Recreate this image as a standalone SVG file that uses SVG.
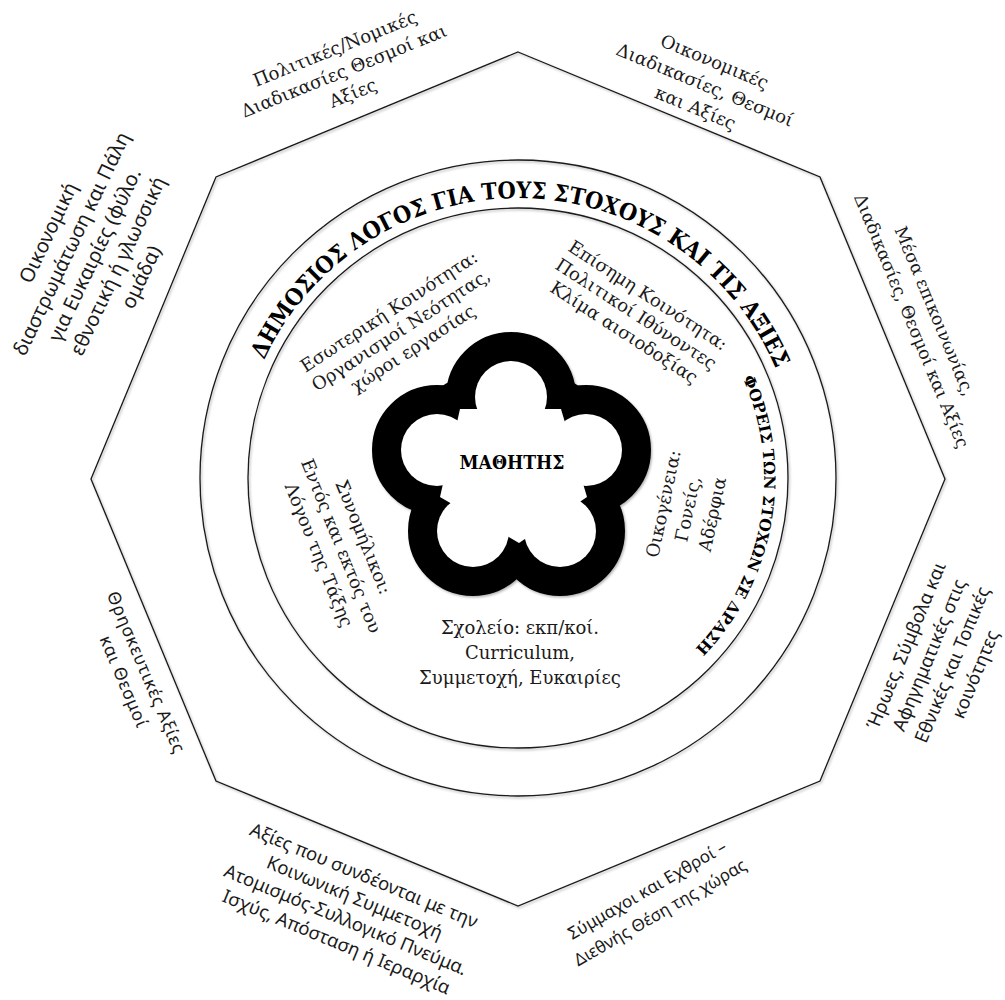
<svg xmlns="http://www.w3.org/2000/svg" xmlns:xlink="http://www.w3.org/1999/xlink" width="1005" height="1000" viewBox="0 0 1005 1000">
<style>
.ln{fill:none;stroke:#1a1a1a;stroke-width:1.3}
.se{font-family:"DejaVu Serif","Liberation Serif",serif;fill:#1a1a1a;text-anchor:middle}
.sa{font-family:"Noto Sans","Open Sans","Liberation Sans",sans-serif;fill:#1a1a1a;text-anchor:middle}
.bd{font-family:"DejaVu Serif","Liberation Serif",serif;font-weight:bold;fill:#000}
</style>
<defs>
<filter id="sh" filterUnits="userSpaceOnUse" x="0" y="0" width="1005" height="1000">
<feDropShadow dx="1.2" dy="1.5" stdDeviation="1" flood-color="#000" flood-opacity="0.3"/>
</filter>
<path id="arcTitle" d="M238.04,473.11 A280,280 0 0 1 797.96,482.89"/>
<path id="arcFor" d="M560.7,235.7 A246,246 0 0 1 475.3,720.3"/>
<g id="petals">
<polygon points="460,409 561,409 587,497 519,543 440,497"/>
<circle cx="511" cy="397" r="36"/>
<circle cx="437" cy="450" r="36"/>
<circle cx="586" cy="450" r="36"/>
<circle cx="473" cy="531" r="36"/>
<circle cx="560" cy="531" r="36"/>
</g>
</defs>
<rect width="1005" height="1000" fill="#fff"/>

<g id="frame" filter="url(#sh)">
<polygon class="ln" points="518,52 820,177 945,479 820,781 518,906 216,781 91,479 216,177"/>
<circle class="ln" cx="518" cy="478" r="318"/>
<circle class="ln" cx="518" cy="478" r="270"/>
</g>

<g id="title">
<text class="bd" font-size="23"><textPath xlink:href="#arcTitle" href="#arcTitle" startOffset="50%" text-anchor="middle" textLength="645" lengthAdjust="spacingAndGlyphs">ΔΗΜΟΣΙΟΣ ΛΟΓΟΣ ΓΙΑ ΤΟΥΣ ΣΤΟΧΟΥΣ ΚΑΙ ΤΙΣ ΑΞΙΕΣ</textPath></text>
</g>
<g id="foreis">
<text class="bd" font-size="15.5"><textPath xlink:href="#arcFor" href="#arcFor" startOffset="50%" text-anchor="middle" textLength="292" lengthAdjust="spacingAndGlyphs">ΦΟΡΕΙΣ ΤΩΝ ΣΤΟΧΩΝ ΣΕ ΔΡΑΣΗ</textPath></text>
</g>

<g id="flower" filter="url(#sh)">
<use href="#petals" xlink:href="#petals" fill="#000" stroke="#000" stroke-width="58" stroke-linejoin="round"/>
<use href="#petals" xlink:href="#petals" fill="#fff"/>
</g>
<g id="student">
<text class="bd" x="512" y="469" font-size="18" text-anchor="middle" textLength="105" lengthAdjust="spacingAndGlyphs">ΜΑΘΗΤΗΣ</text>
</g>

<g id="inner-community" transform="translate(401,330) rotate(-33)">
<text class="se" font-size="18" y="-16">Εσωτερική Κοινότητα:</text>
<text class="se" font-size="18" y="6">Οργανισμοί Νεότητας,</text>
<text class="se" font-size="18" y="28">χώροι εργασίας</text>
</g>
<g id="official-community" transform="translate(636,314) rotate(33)">
<text class="se" font-size="18" y="-16">Επίσημη Κοινότητα:</text>
<text class="se" font-size="18" y="6">Πολιτικοί Ιθύνοντες</text>
<text class="se" font-size="18" y="28">Κλίμα αισιοδοξίας</text>
</g>
<g id="peers" transform="translate(341,546) rotate(68)">
<text class="se" font-size="18" y="-18">Συνομήλικοι:</text>
<text class="se" font-size="18" y="6">Εντός και εκτός του</text>
<text class="se" font-size="18" y="30">Λόγου της Τάξης</text>
</g>
<g id="family" transform="translate(688,509) rotate(-78)">
<text class="se" font-size="18" y="-19">Οικογένεια:</text>
<text class="se" font-size="18" y="6">Γονείς,</text>
<text class="se" font-size="18" y="31">Αδέρφια</text>
</g>
<g id="school">
<text class="se" font-size="18" x="520" y="634">Σχολείο: εκπ/κοί.</text>
<text class="se" font-size="18" x="520" y="659">Curriculum,</text>
<text class="se" font-size="18" x="520" y="684">Συμμετοχή, Ευκαιρίες</text>
</g>

<g id="political" transform="translate(344,71) rotate(-22)">
<text class="se" font-size="18" y="-18">Πολιτικές/Νομικές</text>
<text class="se" font-size="18" y="6">Διαδικασίες Θεσμοί και</text>
<text class="se" font-size="18" y="30">Αξίες</text>
</g>
<g id="economic" transform="translate(705,85) rotate(22.5)">
<text class="se" font-size="18" y="-19">Οικονομικές</text>
<text class="se" font-size="18" y="6">Διαδικασίες, Θεσμοί</text>
<text class="se" font-size="18" y="31">και Αξίες</text>
</g>
<g id="media" transform="translate(923,316) rotate(67.5)">
<text class="se" font-size="17.5" y="-6.5">Μέσα επικοινωνίας,</text>
<text class="se" font-size="17.5" y="18.5">Διαδικασίες, Θεσμοί και Αξίες</text>
</g>
<g id="heroes" transform="translate(941,660) rotate(-67.5)">
<text class="sa" font-size="18.5" y="-31.5">Ήρωες, Σύμβολα και</text>
<text class="sa" font-size="18.5" y="-6.5">Αφηγηματικές στις</text>
<text class="sa" font-size="18.5" y="18.5">Εθνικές και Τοπικές</text>
<text class="sa" font-size="18.5" y="43.5">κοινότητες</text>
</g>
<g id="allies" transform="translate(654,902) rotate(-30)">
<text class="sa" font-size="17" y="-8">Σύμμαχοι και Εχθροί –</text>
<text class="sa" font-size="17" y="18">Διεθνής Θέση της χώρας</text>
</g>
<g id="values" transform="translate(350,909) rotate(22.5)">
<text class="sa" font-size="18.5" y="-30">Αξίες που συνδέονται με την</text>
<text class="sa" font-size="18.5" y="-6">Κοινωνική Συμμετοχή</text>
<text class="sa" font-size="18.5" y="18">Ατομισμός-Συλλογικό Πνεύμα.</text>
<text class="sa" font-size="18.5" y="42">Ισχύς, Απόσταση ή Ιεραρχία</text>
</g>
<g id="stratification" transform="translate(95,255) rotate(-64.5)">
<text class="sa" font-size="20" y="-45">Οικονομική</text>
<text class="sa" font-size="20" y="-19.25">διαστρωμάτωση και Πάλη</text>
<text class="sa" font-size="20" y="6.5">για Ευκαιρίες (φύλο.</text>
<text class="sa" font-size="20" y="32.25">εθνοτική ή γλωσσική</text>
<text class="sa" font-size="20" y="58">ομάδα)</text>
</g>
<g id="religion" transform="translate(135,677) rotate(67)">
<text class="sa" font-size="17.5" y="-6" letter-spacing="0.8">Θρησκευτικές Αξίες</text>
<text class="sa" font-size="17.5" y="18" letter-spacing="0.8">και Θεσμοί</text>
</g>
</svg>
